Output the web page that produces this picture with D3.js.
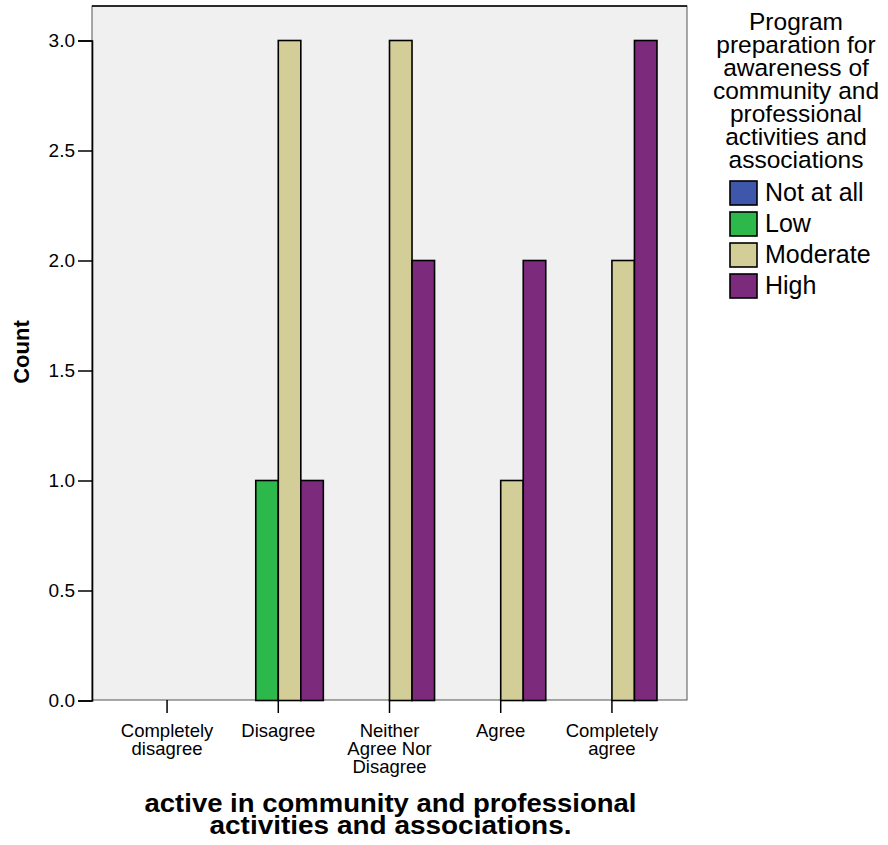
<!DOCTYPE html>
<html>
<head>
<meta charset="utf-8">
<script src="https://cdn.jsdelivr.net/npm/d3@7"></script>
<style>
  html, body { margin: 0; padding: 0; background: #ffffff; }
  svg text { font-family: "Liberation Sans", Arial, Helvetica, sans-serif; fill: #000; }
</style>
</head>
<body>
<svg id="chart" width="888" height="845"></svg>
<script>
// ---- data ----
const categories = [
  ["Completely", "disagree"],
  ["Disagree"],
  ["Neither", "Agree Nor", "Disagree"],
  ["Agree"],
  ["Completely", "agree"]
];
const seriesNames = ["Not at all", "Low", "Moderate", "High"];
const seriesColors = ["#3e57ab", "#2db84b", "#d3ce98", "#7b2a7c"];
const notAtAll = [0, 0, 0, 0, 0];
const low      = [0, 1, 0, 0, 0];
const moderate = [0, 3, 3, 1, 2];
const high     = [0, 1, 2, 2, 3];
const yTicks = [0, 0.5, 1.0, 1.5, 2.0, 2.5, 3.0];
const legendTitle = ["Program", "preparation for", "awareness of", "community and", "professional", "activities and", "associations"];
const xTitle = ["active in community and professional", "activities and associations."];
const yTitle = "Count";

const seriesValues = [notAtAll, low, moderate, high];
const catKeys = categories.map(c => c.join(" "));

// ---- layout ----
const svg = d3.select("#chart");
const plot = { left: 92, right: 687, top: 6, bottom: 700 };

const x0 = d3.scaleBand().domain(catKeys).range([plot.left, plot.right])
  .paddingInner(0).paddingOuter(0.175);
const groupFrac = 0.81;
const x1 = d3.scaleBand().domain(seriesNames)
  .range([x0.bandwidth() * (1 - groupFrac) / 2, x0.bandwidth() * (1 + groupFrac) / 2])
  .padding(0);
const y = d3.scaleLinear().domain([0, 3]).range([700.5, 40.5]);

// plot background
svg.append("rect")
  .attr("x", plot.left).attr("y", plot.top)
  .attr("width", plot.right - plot.left).attr("height", plot.bottom - plot.top)
  .attr("fill", "#f0f0f0").attr("stroke", "#555").attr("stroke-width", 1);
// darker top and left frame edges
svg.append("line").attr("x1", plot.left).attr("x2", plot.right).attr("y1", plot.top).attr("y2", plot.top)
  .attr("stroke", "#000").attr("stroke-width", 1.6);

// bars
const barData = [];
catKeys.forEach((c, ci) => {
  seriesNames.forEach((s, si) => {
    barData.push({ cat: c, series: s, value: seriesValues[si][ci], color: seriesColors[si] });
  });
});
svg.append("g").selectAll("rect").data(barData).join("rect")
  .attr("x", d => x0(d.cat) + x1(d.series))
  .attr("y", d => y(d.value))
  .attr("width", x1.bandwidth())
  .attr("height", d => y(0) - y(d.value))
  .attr("fill", d => d.color)
  .attr("stroke", "#000")
  .attr("stroke-width", 1.6);

// y axis
const yAxis = d3.axisLeft(y).tickValues(yTicks).tickFormat(d3.format(".1f")).tickSize(14).tickPadding(3);
const gy = svg.append("g").attr("transform", `translate(${plot.left},0)`).call(yAxis);
gy.select(".domain").attr("stroke", "#000").attr("stroke-width", 1.6);
gy.selectAll(".tick line").attr("stroke", "#000").attr("stroke-width", 1.5);
gy.selectAll(".tick text").attr("font-size", 19).style("font-family", "Liberation Sans, Arial, sans-serif");

// x axis
const xAxis = d3.axisBottom(x0).tickSize(13).tickFormat("");
const gx = svg.append("g").attr("transform", `translate(0,${plot.bottom})`).call(xAxis);
gx.select(".domain").remove();
gx.selectAll(".tick line").attr("stroke", "#000").attr("stroke-width", 1.5);
gx.selectAll(".tick").each(function(d, i) {
  const t = d3.select(this).append("text")
    .attr("text-anchor", "middle").attr("font-size", 18.5).attr("y", 37);
  categories[i].forEach((line, li) => {
    t.append("tspan").attr("x", 0).attr("dy", li === 0 ? 0 : 18).text(line);
  });
});

// x title
const xtX = (plot.left + plot.right) / 2 + 1;
const xt = svg.append("text").attr("text-anchor", "middle")
  .attr("x", xtX).attr("y", 812)
  .attr("font-size", 25).attr("font-weight", "bold");
const xtWidths = [492, 362];
xTitle.forEach((line, i) => xt.append("tspan").attr("x", xtX).attr("dy", i === 0 ? 0 : 22)
  .attr("textLength", xtWidths[i]).attr("lengthAdjust", "spacingAndGlyphs").text(line));

// y title
svg.append("text").attr("text-anchor", "middle")
  .attr("transform", `translate(29,352) rotate(-90)`)
  .attr("font-size", 22).attr("font-weight", "bold").text(yTitle);

// legend
const lgX = 796;
const lt = svg.append("text").attr("text-anchor", "middle").attr("font-size", 24.5);
legendTitle.forEach((line, i) => lt.append("tspan").attr("x", lgX).attr("y", 30 + i * 23).text(line));

const lg = svg.append("g").selectAll("g").data(seriesNames).join("g")
  .attr("transform", (d, i) => `translate(730,${181 + i * 31})`);
lg.append("rect").attr("width", 27).attr("height", 24)
  .attr("fill", (d, i) => seriesColors[i]).attr("stroke", "#000").attr("stroke-width", 1.6);
lg.append("text").attr("x", 35).attr("y", 20).attr("font-size", 25).text(d => d);
</script>
</body>
</html>
